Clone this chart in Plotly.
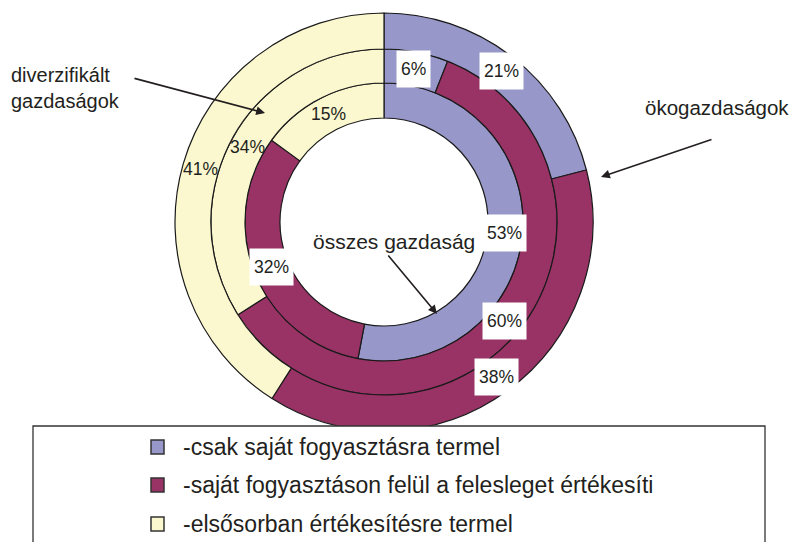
import math
import plotly.graph_objects as go

# ---------------- data ----------------
categories = [
    "-csak saját fogyasztásra termel",
    "-saját fogyasztáson felül a felesleget értékesíti",
    "-elsősorban értékesítésre termel",
]
ring_names = ["összes gazdaság", "diverzifikált gazdaságok", "ökogazdaságok"]
osszes_gazdasag = [53, 32, 15]          # inner ring
diverzifikalt_gazdasagok = [6, 60, 34]  # middle ring
okogazdasagok = [21, 38, 41]            # outer ring

# ---------------- styles / geometry ----------------
W, H = 792, 542
colors = ["#9797C9", "#993366", "#FBF8CF"]
label_bg = ["white", "white", "rgba(0,0,0,0)"]
TXT = "#231F20"
FONT = "Liberation Sans, Arial, sans-serif"
CX, CY = 384, 222
radii = [104, 139, 173, 209]  # hole, inner|middle, middle|outer, outer


def px(x):
    return x / W


def py(y):
    return 1 - y / H


fig = go.Figure()
annotations = []

rings = [osszes_gazdasag, diverzifikalt_gazdasagok, okogazdasagok]
for k, (name, vals) in enumerate(zip(ring_names, rings)):
    r_in, r_out = radii[k], radii[k + 1]
    fig.add_trace(go.Pie(
        name=name,
        labels=categories,
        values=vals,
        sort=False,
        direction="clockwise",
        rotation=0,
        hole=r_in / r_out,
        domain=dict(x=[px(CX - r_out), px(CX + r_out)],
                    y=[py(CY + r_out), py(CY - r_out)]),
        marker=dict(colors=colors, line=dict(color="#1a1a1a", width=1.2)),
        textinfo="none",
        hoverinfo="label+percent",
        showlegend=False,
    ))
    # data labels at slice mid-angle, middle of ring
    total = sum(vals)
    cum = 0
    rm = (r_in + r_out) / 2
    for i, v in enumerate(vals):
        mid = (cum + v / 2) / total
        cum += v
        th = 2 * math.pi * mid
        lx = CX + rm * math.sin(th)
        ly = CY - rm * math.cos(th)
        annotations.append(dict(
            x=px(lx), y=py(ly), xref="paper", yref="paper",
            text=f"{v}%", showarrow=False,
            font=dict(family=FONT, size=17.5, color=TXT),
            bgcolor=label_bg[i], borderpad=4, height=28,
            xanchor="center", yanchor="middle",
        ))

# callout texts
annotations += [
    dict(x=px(9), y=py(88), xref="paper", yref="paper", text="diverzifikált<br>gazdaságok",
         showarrow=False, align="left", xanchor="left", yanchor="middle",
         font=dict(family=FONT, size=20, color=TXT)),
    dict(x=px(394), y=py(242), xref="paper", yref="paper", text="összes gazdaság",
         showarrow=False, xanchor="center", yanchor="middle",
         font=dict(family=FONT, size=21, color=TXT)),
    dict(x=px(717), y=py(107), xref="paper", yref="paper", text="ökogazdaságok",
         showarrow=False, xanchor="center", yanchor="middle",
         font=dict(family=FONT, size=20.5, color=TXT)),
]

# callout arrows (head, tail)
arrows = [((265, 113), (133, 78)), ((437, 314), (387, 254)), ((601, 177), (713, 139))]
for (hx, hy), (tx, ty) in arrows:
    annotations.append(dict(
        x=px(hx), y=py(hy), xref="paper", yref="paper", text="",
        showarrow=True, ax=tx - hx, ay=ty - hy, axref="pixel", ayref="pixel",
        arrowhead=2, arrowsize=1.1, arrowwidth=1.6, arrowcolor=TXT, standoff=0,
    ))

# legend (manual, framed box)
shapes = [dict(type="rect", xref="paper", yref="paper",
               x0=px(33), x1=px(765), y0=py(560), y1=py(426),
               line=dict(color="#333333", width=1.3), fillcolor="white")]
leg_y = [447, 485, 524]
for i, cat in enumerate(categories):
    yc = leg_y[i]
    shapes.append(dict(type="rect", xref="paper", yref="paper",
                       x0=px(151), x1=px(164), y0=py(yc + 7), y1=py(yc - 7),
                       line=dict(color="#333333", width=1.5), fillcolor=colors[i]))
    annotations.append(dict(
        x=px(181), y=py(yc), xref="paper", yref="paper", text=cat,
        showarrow=False, xanchor="left", yanchor="middle",
        font=dict(family=FONT, size=23, color=TXT),
    ))

fig.update_layout(
    width=W, height=H,
    margin=dict(l=0, r=0, t=0, b=0),
    paper_bgcolor="white", plot_bgcolor="white",
    annotations=annotations, shapes=shapes,
    showlegend=False,
)

fig.write_html(
    "out.html",
    config={"displayModeBar": False},
    post_script="document.body.style.margin='0';document.body.style.overflow='hidden';",
)
